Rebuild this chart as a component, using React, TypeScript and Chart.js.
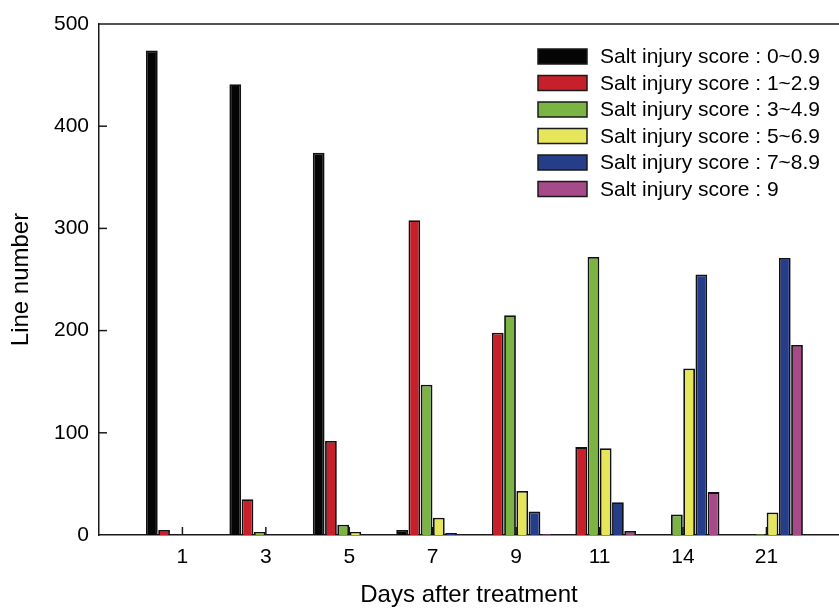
import React, { useEffect, useRef } from "react";
import { Chart, registerables } from "chart.js";

Chart.register(...registerables);

const DAYS = ["1", "3", "5", "7", "9", "11", "14", "21"];
const SERIES_LABELS = [
  "Salt injury score : 0~0.9",
  "Salt injury score : 1~2.9",
  "Salt injury score : 3~4.9",
  "Salt injury score : 5~6.9",
  "Salt injury score : 7~8.9",
  "Salt injury score : 9",
];
const SCORE_0 = [474, 441, 374, 5, 0, 0, 0, 0];
const SCORE_1 = [5, 35, 92, 308, 198, 86, 0, 0];
const SCORE_3 = [0, 3, 10, 147, 215, 272, 20, 1];
const SCORE_5 = [0, 0, 3, 17, 43, 85, 163, 22];
const SCORE_7 = [0, 0, 0, 2, 23, 32, 255, 271];
const SCORE_9 = [0, 0, 0, 0, 1, 4, 42, 186];
const Y_TICKS = [0, 100, 200, 300, 400, 500];

const COLORS = ["#050505", "#c8202a", "#7bb443", "#e6e65a", "#263d8a", "#a64a8a"];
const FONT = "'Liberation Sans', Arial, sans-serif";

const frameAndTicks = {
  id: "frameAndTicks",
  beforeDatasetsDraw(chart: any) {
    const { ctx, chartArea, scales } = chart;
    ctx.save();
    ctx.strokeStyle = "#1a1a1a";
    ctx.lineWidth = 1.5;
    const yTop = scales.y.getPixelForValue(500);
    ctx.beginPath();
    ctx.moveTo(chartArea.left, yTop);
    ctx.lineTo(chartArea.right, yTop);
    ctx.stroke();
    Y_TICKS.slice(1, -1).forEach((v) => {
      const y = scales.y.getPixelForValue(v);
      ctx.beginPath();
      ctx.moveTo(chartArea.left, y);
      ctx.lineTo(chartArea.left + 8, y);
      ctx.stroke();
    });
    DAYS.forEach((_, i) => {
      const x = scales.x.getPixelForValue(i + 1);
      ctx.beginPath();
      ctx.moveTo(x, chartArea.bottom);
      ctx.lineTo(x, chartArea.bottom - 8);
      ctx.stroke();
    });
    ctx.restore();
  },
};

const boxLegend = {
  id: "boxLegend",
  afterDatasetsDraw(chart: any) {
    const { ctx } = chart;
    ctx.save();
    chart.data.datasets.forEach((ds: any, i: number) => {
      const cy = 56.5 + i * 26.5;
      ctx.fillStyle = ds.backgroundColor;
      ctx.fillRect(538, cy - 7.5, 49, 15);
      ctx.strokeStyle = "#1a1a1a";
      ctx.lineWidth = 1.5;
      ctx.strokeRect(538, cy - 7.5, 49, 15);
      ctx.fillStyle = "#000";
      ctx.font = `21px ${FONT}`;
      ctx.textAlign = "left";
      ctx.textBaseline = "middle";
      ctx.fillText(ds.label, 600, cy + 1);
    });
    ctx.restore();
  },
};

export default function App() {
  const ref = useRef<HTMLCanvasElement>(null);
  useEffect(() => {
    document.body.style.margin = "0";
    const all = [SCORE_0, SCORE_1, SCORE_3, SCORE_5, SCORE_7, SCORE_9];
    const chart = new Chart(ref.current!, {
      type: "bar",
      data: {
        datasets: all.map((arr, k) => ({
          label: SERIES_LABELS[k],
          data: arr.map((v, i) => ({ x: i + 1, y: v })),
          backgroundColor: COLORS[k],
          borderColor: "#111",
          borderWidth: 1.8,
          categoryPercentage: 0.88,
          barPercentage: 0.96,
        })),
      },
      options: {
        animation: false,
        responsive: false,
        devicePixelRatio: 1,
        layout: { padding: { top: 24, right: 0, bottom: 0, left: 0 } },
        plugins: { legend: { display: false }, tooltip: { enabled: false } },
        scales: {
          x: {
            type: "linear",
            offset: false,
            min: 0,
            max: 8.87,
            grid: { display: false, drawTicks: false, offset: false },
            border: { display: true, color: "#1a1a1a", width: 1.5 },
            afterBuildTicks: (scale: any) => {
              scale.ticks = DAYS.map((_, i) => ({ value: i + 1 }));
            },
            afterFit: (scale: any) => {
              scale.height = 80;
            },
            ticks: {
              autoSkip: false,
              maxRotation: 0,
              padding: 10,
              color: "#000",
              font: { family: FONT, size: 21 },
              callback: (v: any) => DAYS[Math.round(v) - 1] ?? "",
            },
            title: {
              display: true,
              text: "Days after treatment",
              color: "#000",
              font: { family: FONT, size: 24 },
              padding: { top: 0, bottom: 5 },
            },
          },
          y: {
            min: 0,
            max: 500,
            grid: { display: false, drawTicks: false },
            border: { display: true, color: "#1a1a1a", width: 1.5 },
            afterBuildTicks: (scale: any) => {
              scale.ticks = Y_TICKS.map((v) => ({ value: v }));
            },
            afterFit: (scale: any) => {
              scale.width = 99;
            },
            ticks: {
              padding: 10,
              color: "#000",
              font: { family: FONT, size: 21 },
            },
            title: {
              display: true,
              text: "Line number",
              color: "#000",
              font: { family: FONT, size: 24 },
              padding: { top: 7, bottom: 0 },
            },
          },
        },
      },
      plugins: [frameAndTicks, boxLegend],
    } as any);
    return () => chart.destroy();
  }, []);
  return (
    <div style={{ width: 839, height: 615, overflow: "hidden" }}>
      <canvas ref={ref} width={839} height={615} style={{ display: "block" }} />
    </div>
  );
}
